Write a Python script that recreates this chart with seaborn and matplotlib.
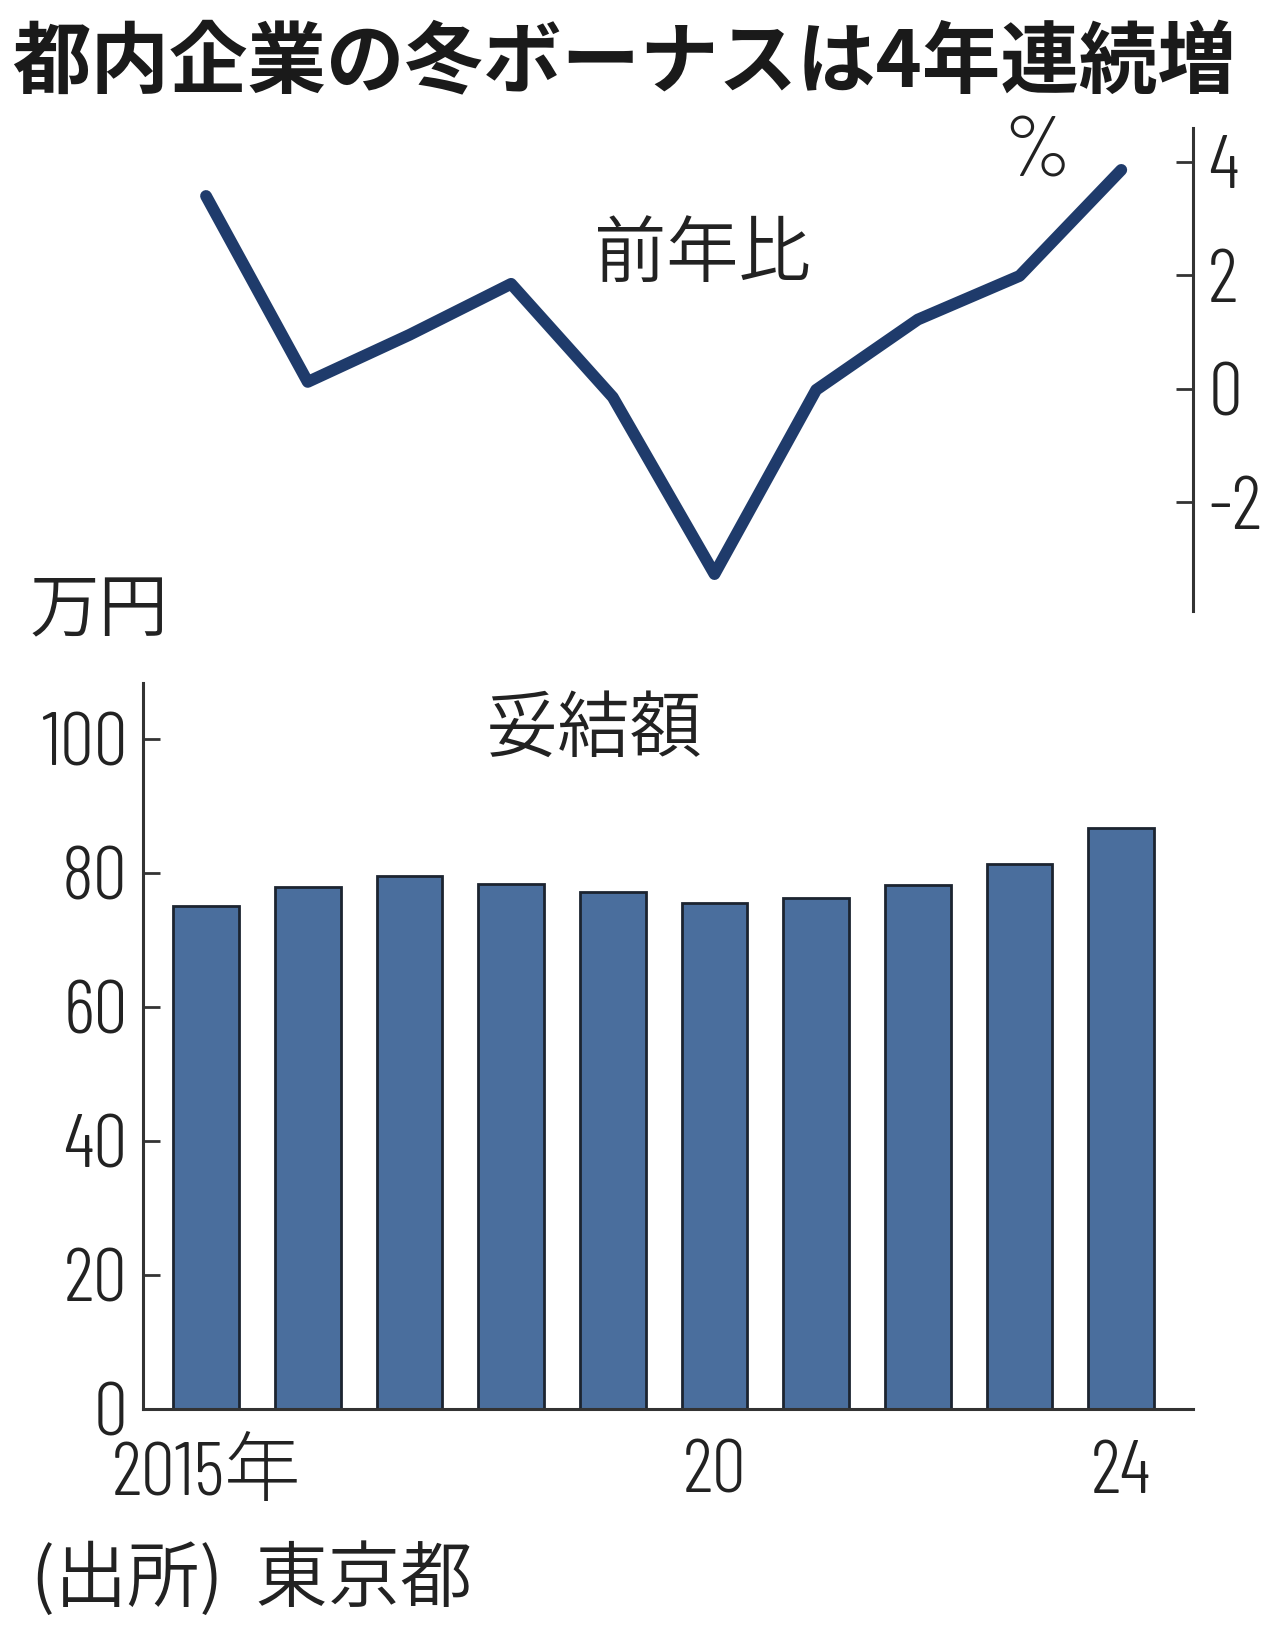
import numpy as np
import pandas as pd
import matplotlib
matplotlib.use("Agg")
import matplotlib.pyplot as plt
from matplotlib import font_manager as fm
import seaborn as sns

# ---- data ----
years = ["2015", "2016", "2017", "2018", "2019", "2020", "2021", "2022", "2023", "2024"]
yoy_pct = [3.4, 0.12, 0.95, 1.85, -0.15, -3.27, -0.02, 1.22, 1.99, 3.86]
amount_man_yen = [75.1, 77.9, 79.5, 78.3, 77.1, 75.5, 76.2, 78.2, 81.3, 86.7]
xtick_pos = [0, 5, 9]
xtick_labels = ["2015年", "20", "24"]
yoy_ticks = [-2, 0, 2, 4]
yoy_ticklabels = ["-2", "0", "2", "4"]
amt_ticks = [0, 20, 40, 60, 80, 100]
amt_ticklabels = ["0", "20", "40", "60", "80", "100"]

title = "都内企業の冬ボーナスは4年連続増"
line_label = "前年比"
bar_label = "妥結額"
unit_pct = "%"
unit_yen = "万円"
source = "(出所)  東京都"

sns.set_theme(style="white")

available = {f.name for f in fm.fontManager.ttflist}
num_pref = ["Barlow Condensed", "Archivo Narrow", "Liberation Sans Narrow",
            "Encode Sans Condensed", "Asap Condensed"]
num_font = next((f for f in num_pref if f in available), "DejaVu Sans")
CJK = ["Noto Sans CJK JP", "DejaVu Sans"]
NUM = [num_font, "Noto Sans CJK JP", "DejaVu Sans"]
plt.rcParams["font.family"] = CJK

text_col = "#222222"
spine_col = "#333333"
line_col = "#1f3b6b"
bar_col = "#4a6e9d"
edge_col = "#1c2430"
NUM_W = 300
CJK_W = 350
NUM_SIZE = 55

df = pd.DataFrame({"year": years, "yoy": yoy_pct, "amount": amount_man_yen})
df["idx"] = np.arange(len(df))

fig = plt.figure(figsize=(12.8, 16.3), dpi=100)
fig.patch.set_facecolor("white")

xlim = (-0.62, 9.705)

# ---- line chart (top) ----
ax1 = fig.add_axes([0.1117, 0.6252, 0.8203, 0.2963])
sns.lineplot(data=df, x="idx", y="yoy", ax=ax1, color=line_col, linewidth=8.5)
for ln in ax1.lines:
    ln.set_solid_capstyle("round")
    ln.set_solid_joinstyle("round")
ax1.set_xlim(*xlim)
ax1.set_ylim(-3.92, 4.6)
ax1.set_xlabel("")
ax1.set_ylabel("")
ax1.set_xticks([])
for s in ["left", "top", "bottom"]:
    ax1.spines[s].set_visible(False)
ax1.spines["right"].set_visible(True)
ax1.spines["right"].set_color(spine_col)
ax1.spines["right"].set_linewidth(2.2)
ax1.yaxis.tick_right()
ax1.set_yticks(yoy_ticks)
ax1.set_yticklabels(yoy_ticklabels, fontfamily=NUM, fontsize=NUM_SIZE,
                    fontweight=NUM_W, color=text_col)
ax1.tick_params(axis="y", which="major", direction="in", length=12, width=2,
                color=spine_col, pad=11, right=True, left=False,
                labelright=True, labelleft=False)
ax1.set_facecolor("none")

# ---- bar chart (bottom) ----
ax2 = fig.add_axes([0.1117, 0.1356, 0.8203, 0.4454])
sns.barplot(data=df, x="year", y="amount", ax=ax2, color=bar_col, saturation=1,
            width=0.645, edgecolor=edge_col, linewidth=2.0)
ax2.set_xlim(*xlim)
ax2.set_ylim(0, 108.3)
ax2.set_xlabel("")
ax2.set_ylabel("")
for s in ["right", "top"]:
    ax2.spines[s].set_visible(False)
for s in ["left", "bottom"]:
    ax2.spines[s].set_visible(True)
    ax2.spines[s].set_color(spine_col)
    ax2.spines[s].set_linewidth(2.2)
ax2.set_yticks(amt_ticks)
ax2.set_yticklabels(amt_ticklabels, fontfamily=NUM, fontsize=NUM_SIZE,
                    fontweight=NUM_W, color=text_col)
ax2.set_xticks(xtick_pos)
ax2.set_xticklabels(xtick_labels, fontfamily=NUM, fontsize=NUM_SIZE,
                    fontweight=NUM_W, color=text_col)
ax2.tick_params(axis="y", direction="in", length=12, width=2, color=spine_col,
                pad=11, left=True)
ax2.tick_params(axis="x", length=0, pad=22)
ax2.set_facecolor("none")

# ---- texts ----
fig.text(12 / 1280, 1 - 65 / 1630, title, fontsize=56.5, fontweight="bold",
         color="#1a1a1a", ha="left", va="center", family=CJK)
fig.text(702 / 1280, 1 - 255 / 1630, line_label, fontsize=52, fontweight=CJK_W,
         color=text_col, ha="center", va="center", family=CJK)
fig.text(1037 / 1280, 1 - 155 / 1630, unit_pct, fontsize=62, fontweight=NUM_W,
         color=text_col, ha="center", va="center", family=NUM)
fig.text(29 / 1280, 1 - 612 / 1630, unit_yen, fontsize=50, fontweight=CJK_W,
         color=text_col, ha="left", va="center", family=CJK)
fig.text(594 / 1280, 1 - 730 / 1630, bar_label, fontsize=52, fontweight=CJK_W,
         color=text_col, ha="center", va="center", family=CJK)
fig.text(31 / 1280, 1 - 1580 / 1630, source, fontsize=52, fontweight=CJK_W,
         color=text_col, ha="left", va="center", family=CJK)

fig.savefig("out.png", dpi=100, facecolor="white")
